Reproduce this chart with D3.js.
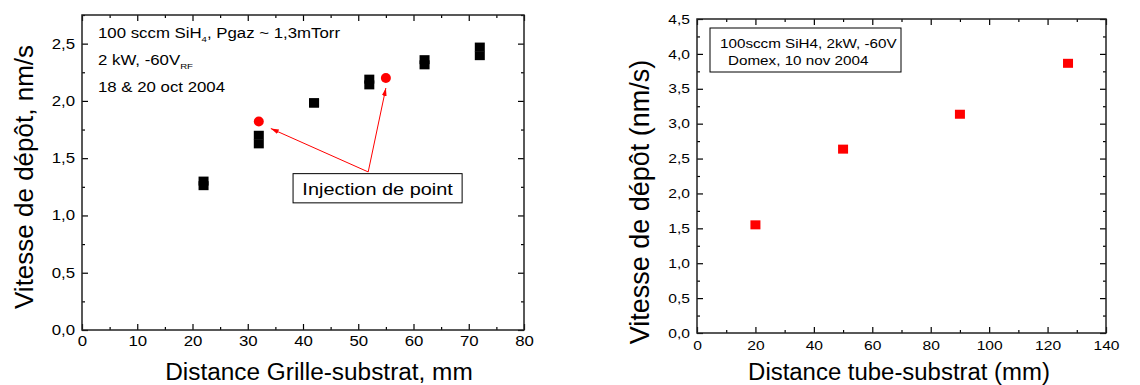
<!DOCTYPE html>
<html><head><meta charset="utf-8">
<script src="https://cdn.jsdelivr.net/npm/d3@7/dist/d3.min.js"></script>
<style>
html,body{margin:0;padding:0;background:#fff;}
svg{display:block;font-family:"Liberation Sans",Arial,Helvetica,sans-serif;}
</style></head><body>
<svg id="chart" width="1140" height="385"></svg>
<script>
// ---------- data ----------
const leftXTicks = [0,10,20,30,40,50,60,70,80];
const leftXMinor = [5,15,25,35,45,55,65,75];
const leftYTicks = [0,0.5,1.0,1.5,2.0,2.5];
const leftYMinor = [0.25,0.75,1.25,1.75,2.25,2.75];
const leftX = [22,32,42,52,62,72];
const leftRun1 = [1.26,1.625,1.98,2.14,2.315,2.395];
const leftRun2 = [1.30,1.70,1.985,2.19,2.36,2.47];
const injX = [32,55];
const injY = [1.82,2.20];
const injLabel = "Injection de point";
const injArrowFrom = [51.8,1.38];
const injBox = [38.2,68.8,1.11,1.365];
const leftNotes = ["100 sccm SiH", "2 kW, -60V", "18 & 20 oct 2004"];

const rightXTicks = [0,20,40,60,80,100,120,140];
const rightXMinor = [10,30,50,70,90,110,130];
const rightYTicks = [0,0.5,1.0,1.5,2.0,2.5,3.0,3.5,4.0,4.5];
const rightYMinor = [0.25,0.75,1.25,1.75,2.25,2.75,3.25,3.75,4.25];
const rightX = [20,50,90,127];
const rightY = [1.55,2.635,3.135,3.865];
const rightNotes = ["100sccm SiH4, 2kW, -60V", "Domex, 10 nov 2004"];

// ---------- helpers ----------
const svg = d3.select("#chart");
const comma = d => d3.format(".1f")(d).replace(".", ",");
function stretch(sel, k){
  sel.each(function(){
    const L = this.getComputedTextLength();
    this.setAttribute("textLength", L*k);
    this.setAttribute("lengthAdjust","spacingAndGlyphs");
  });
}
const defs = svg.append("defs");
defs.append("marker").attr("id","arr").attr("viewBox","0 0 10 6")
  .attr("refX",10).attr("refY",3).attr("markerWidth",8).attr("markerHeight",5)
  .attr("markerUnits","userSpaceOnUse").attr("orient","auto")
  .append("path").attr("d","M0,0L10,3L0,6Z").attr("fill","#ff0000");

function frame(g, x, y, xt, xm, yt, ym, xfmt, yfmt, fs, k, xPad, yPad){
  const [x0,x1] = x.range(), [y1,y0] = y.range();
  const mk = (axis, tr) => {
    const a = g.append("g").attr("transform", tr).call(axis);
    a.select(".domain").remove();
    a.selectAll("line").attr("stroke","#000").attr("stroke-width",1.2);
    return a;
  };
  const bx = mk(d3.axisBottom(x).tickValues(xt).tickSize(-6).tickPadding(xPad).tickFormat(xfmt), `translate(0,${y1})`);
  mk(d3.axisBottom(x).tickValues(xm).tickSize(-3).tickFormat(""), `translate(0,${y1})`);
  mk(d3.axisTop(x).tickValues(xt).tickSize(-6).tickFormat(""), `translate(0,${y0})`);
  mk(d3.axisTop(x).tickValues(xm).tickSize(-3).tickFormat(""), `translate(0,${y0})`);
  const ly = mk(d3.axisLeft(y).tickValues(yt).tickSize(-6).tickPadding(yPad).tickFormat(yfmt), `translate(${x0},0)`);
  mk(d3.axisLeft(y).tickValues(ym).tickSize(-3).tickFormat(""), `translate(${x0},0)`);
  mk(d3.axisRight(y).tickValues(yt).tickSize(-6).tickFormat(""), `translate(${x1},0)`);
  mk(d3.axisRight(y).tickValues(ym).tickSize(-3).tickFormat(""), `translate(${x1},0)`);
  [bx, ly].forEach(a => {
    a.selectAll("text").attr("font-size", fs).attr("fill","#000")
      .attr("font-family",'"Liberation Sans",Arial,Helvetica,sans-serif');
    stretch(a.selectAll("text"), k);
  });
  g.append("rect").attr("x",x0).attr("y",y0).attr("width",x1-x0).attr("height",y1-y0)
    .attr("fill","none").attr("stroke","#222").attr("stroke-width",1.5);
}

// ---------- left chart ----------
const gL = svg.append("g");
const xL = d3.scaleLinear().domain([0,80]).range([82,524]);
const yL = d3.scaleLinear().domain([0,2.75]).range([330,15]);
frame(gL, xL, yL, leftXTicks, leftXMinor, leftYTicks, leftYMinor, d3.format("d"), comma, 14, 1.2, 6, 7);

[leftRun1, leftRun2].forEach(run => {
  gL.append("g").selectAll("rect").data(leftX.map((v,i)=>[v,run[i]])).join("rect")
    .attr("x", d => xL(d[0]) - 5).attr("y", d => yL(d[1]) - 4.5)
    .attr("width",10).attr("height",9).attr("fill","#000");
});
gL.append("g").selectAll("circle").data(injX.map((v,i)=>[v,injY[i]])).join("circle")
  .attr("cx", d => xL(d[0])).attr("cy", d => yL(d[1])).attr("r",5).attr("fill","#ff0000");

// arrows
gL.append("g").selectAll("line").data(injX.map((v,i)=>[v,injY[i]])).join("line")
  .attr("x1", xL(injArrowFrom[0])).attr("y1", yL(injArrowFrom[1]))
  .attr("x2", (d,i) => xL(d[0]) + (i===0 ? 12 : 0))
  .attr("y2", (d,i) => yL(d[1]) + (i===0 ? 7 : 10))
  .attr("stroke","#ff0000").attr("stroke-width",1).attr("marker-end","url(#arr)");
gL.append("rect").attr("x", xL(injBox[0])).attr("y", yL(injBox[3]))
  .attr("width", xL(injBox[1]) - xL(injBox[0])).attr("height", yL(injBox[2]) - yL(injBox[3]))
  .attr("fill","#fff").attr("stroke","#000").attr("stroke-width",1);
const injT = gL.append("text").attr("x", (xL(injBox[0])+xL(injBox[1]))/2)
  .attr("y", yL(injBox[2]) - 8).attr("text-anchor","middle").attr("font-size",17).text(injLabel);
stretch(injT, 1.17);

// left notes
const n1 = gL.append("text").attr("x",98).attr("y",38).attr("font-size",14);
n1.append("tspan").text(leftNotes[0]);
n1.append("tspan").attr("font-size",8).attr("dy",4).text("4");
n1.append("tspan").attr("dy",-4).text(", Pgaz ~ 1,3mTorr");
stretch(n1, 1.2);
const n2 = gL.append("text").attr("x",98).attr("y",65).attr("font-size",14);
n2.append("tspan").text(leftNotes[1]);
n2.append("tspan").attr("font-size",8).attr("dy",4).text("RF");
stretch(n2, 1.2);
const n3 = gL.append("text").attr("x",98).attr("y",92).attr("font-size",14).text(leftNotes[2]);
stretch(n3, 1.2);

// left titles
const tlx = gL.append("text").attr("x",319).attr("y",380).attr("text-anchor","middle")
  .attr("font-size",23).text("Distance Grille-substrat, mm");
stretch(tlx, 1.06);
gL.append("text").attr("transform","translate(33,177) rotate(-90)").attr("text-anchor","middle")
  .attr("font-size",26).text("Vitesse de dépôt, nm/s");

// ---------- right chart ----------
const gR = svg.append("g");
const xR = d3.scaleLinear().domain([0,140]).range([697,1106]);
const yR = d3.scaleLinear().domain([0,4.5]).range([333,19]);
frame(gR, xR, yR, rightXTicks, rightXMinor, rightYTicks, rightYMinor, d3.format("d"), comma, 13, 1.2, 8, 7);

gR.append("g").selectAll("rect").data(rightX.map((v,i)=>[v,rightY[i]])).join("rect")
  .attr("x", d => xR(d[0]) - 5).attr("y", d => yR(d[1]) - 4.5)
  .attr("width",10).attr("height",9).attr("fill","#ff0000");

gR.append("rect").attr("x",710).attr("y",28).attr("width",191).attr("height",44)
  .attr("fill","#fff").attr("stroke","#000").attr("stroke-width",1);
const r1 = gR.append("text").attr("x",720).attr("y",48).attr("font-size",13).text(rightNotes[0]);
stretch(r1, 1.17);
const r2 = gR.append("text").attr("x",728).attr("y",65).attr("font-size",13).text(rightNotes[1]);
stretch(r2, 1.17);

const trx = gR.append("text").attr("x",899).attr("y",380).attr("text-anchor","middle")
  .attr("font-size",23).text("Distance tube-substrat (mm)");
stretch(trx, 1.04);
gR.append("text").attr("transform","translate(649,202) rotate(-90)").attr("text-anchor","middle")
  .attr("font-size",27).text("Vitesse de dépôt (nm/s)");
</script>
</body></html>
